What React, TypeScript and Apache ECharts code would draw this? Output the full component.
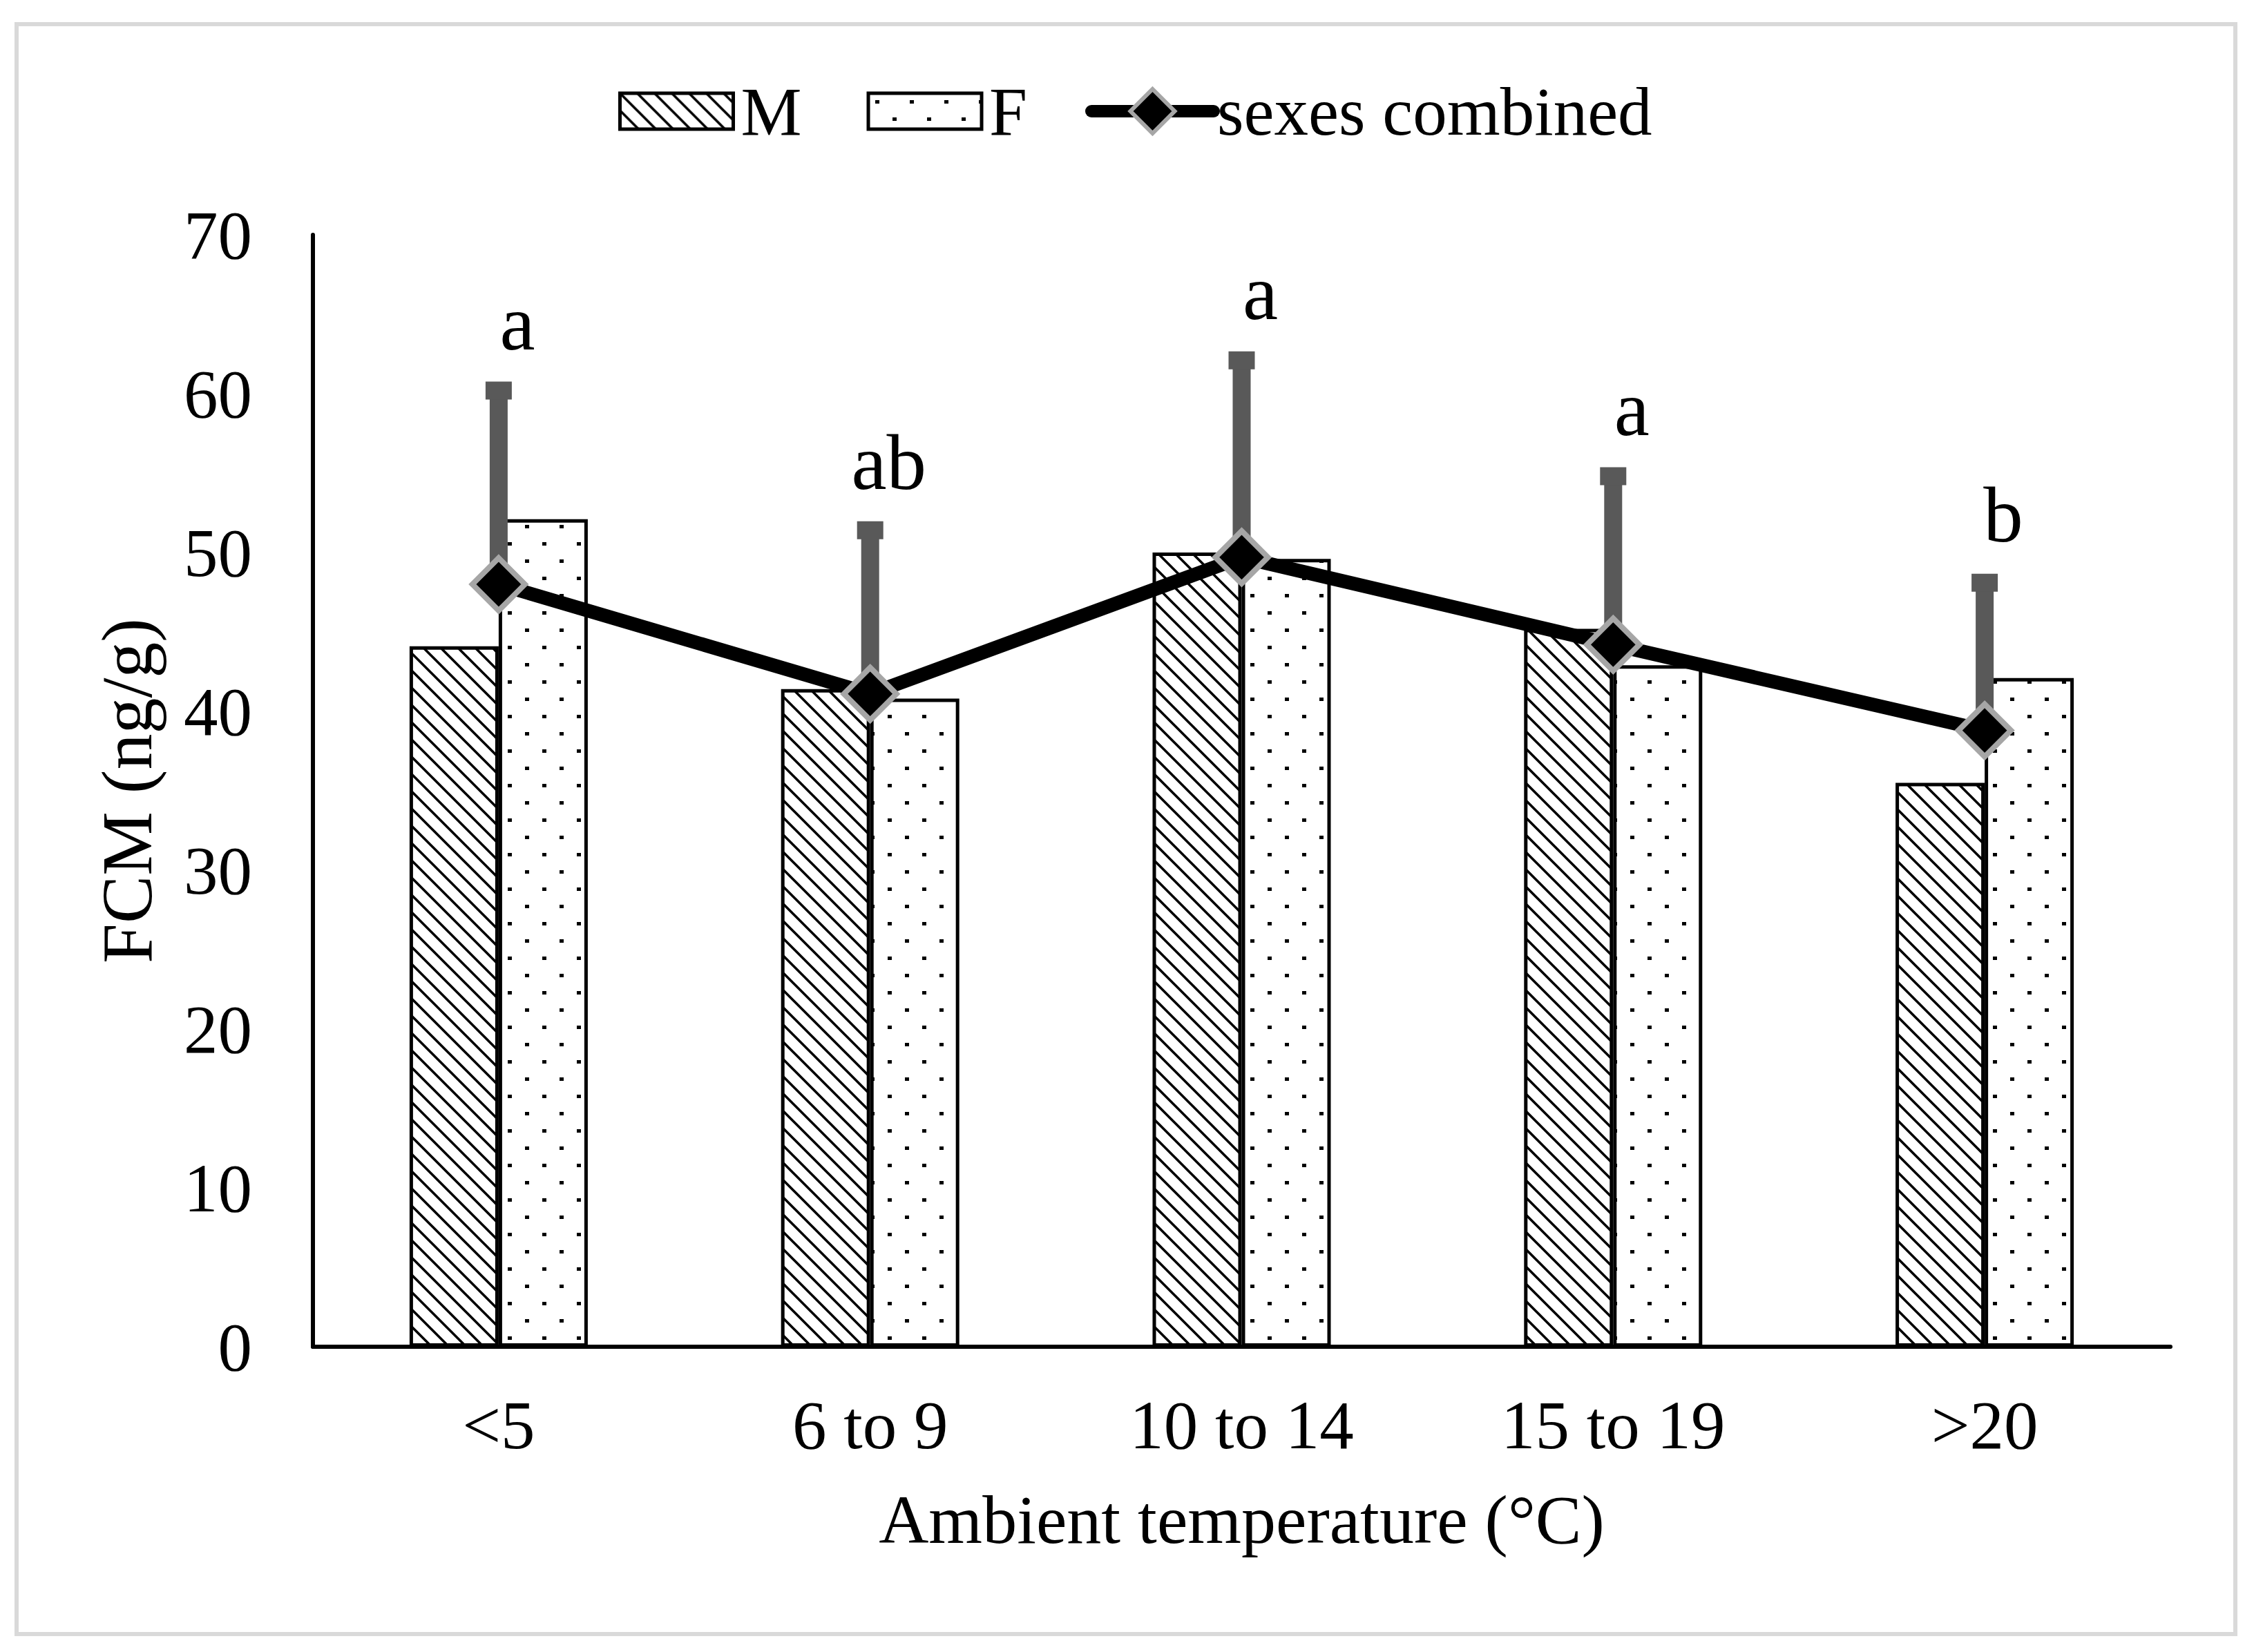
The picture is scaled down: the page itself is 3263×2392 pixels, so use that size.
import * as React from "react";
import * as echarts from "echarts";

const categories = ["<5", "6 to 9", "10 to 14", "15 to 19", ">20"];
const maleFCM = [44.1, 41.4, 50.0, 45.2, 35.5];
const femaleFCM = [52.1, 40.8, 49.6, 42.9, 42.1];
const combinedFCM = [48.0, 41.1, 49.7, 44.2, 38.8];
const combinedUpper = [60.2, 51.4, 62.1, 54.8, 48.1];
const groupLetters = ["a", "ab", "a", "a", "b"];
const yTicks = { min: 0, max: 70, interval: 10 };

const FONT = "'Liberation Serif', 'Times New Roman', serif";

// diagonal "\" hatch for the M bars
function hatchTile() {
  const c = document.createElement("canvas");
  c.width = 25; c.height = 25;
  const ctx = c.getContext("2d")!;
  ctx.fillStyle = "#fff";
  ctx.fillRect(0, 0, 25, 25);
  ctx.strokeStyle = "#000";
  ctx.lineWidth = 3.6;
  ctx.beginPath();
  ctx.moveTo(-5, -5); ctx.lineTo(30, 30);
  ctx.moveTo(-5, 20); ctx.lineTo(5, 30);
  ctx.moveTo(20, -5); ctx.lineTo(30, 5);
  ctx.stroke();
  return c;
}

// staggered dots for the F bars
function dotTile() {
  const c = document.createElement("canvas");
  c.width = 50; c.height = 50;
  const ctx = c.getContext("2d")!;
  ctx.fillStyle = "#fff";
  ctx.fillRect(0, 0, 50, 50);
  ctx.fillStyle = "#000";
  ctx.fillRect(10, 10, 6, 5);
  ctx.fillRect(35, 35, 6, 5);
  return c;
}

export default function App() {
  const ref = React.useRef<HTMLDivElement>(null);
  React.useEffect(() => {
    document.body.style.margin = "0";
    if (!ref.current) return;
    const chart = echarts.init(ref.current, undefined, { renderer: "svg" });
    const hatch = { image: hatchTile(), repeat: "repeat", imageWidth: 25, imageHeight: 25 };
    const dots = { image: dotTile(), repeat: "repeat", imageWidth: 50, imageHeight: 50 };
    const legendText = { fontSize: 99, fontFamily: FONT, color: "#000", lineHeight: 100 };

    chart.setOption({
      animation: false,
      backgroundColor: "#fff",
      textStyle: { fontFamily: FONT, color: "#000" },
      graphic: [
        {
          type: "rect",
          shape: { x: 24, y: 35, width: 3212, height: 2331 },
          style: { fill: "none", stroke: "#d9d9d9", lineWidth: 6 },
          silent: true,
        },
      ],
      legend: [
        {
          left: 895, top: 111, padding: 0,
          itemWidth: 164, itemHeight: 52, itemGap: 94,
          icon: "rect",
          textStyle: { ...legendText, padding: [0, 0, 0, 6] },
          data: [
            { name: "M", itemStyle: { borderColor: "#000", borderWidth: 5 } },
            { name: "F", itemStyle: { borderColor: "#000", borderWidth: 5 } },
          ],
        },
        {
          left: 1571, top: 111, padding: 0,
          itemWidth: 177, itemHeight: 80,
          textStyle: legendText,
          data: [
            {
              name: "sexes combined",
              itemStyle: { color: "#000", borderColor: "#a6a6a6", borderWidth: 6 },
              lineStyle: { color: "#000", width: 18, cap: "round" },
            },
          ],
        },
      ],
      grid: { left: 453, right: 121, top: 340, bottom: 442 },
      xAxis: {
        type: "category",
        data: categories,
        axisLine: { lineStyle: { color: "#000", width: 6 } },
        axisTick: { show: false },
        axisLabel: { fontSize: 99, fontFamily: FONT, color: "#000", margin: 64, interval: 0 },
        name: "Ambient temperature (°C)",
        nameLocation: "middle",
        nameGap: 200,
        nameTextStyle: { fontSize: 100, fontFamily: FONT, color: "#000" },
      },
      yAxis: {
        type: "value",
        min: yTicks.min, max: yTicks.max, interval: yTicks.interval,
        axisLine: { show: true, lineStyle: { color: "#000", width: 6 } },
        axisTick: { show: false },
        splitLine: { show: false },
        axisLabel: { fontSize: 99, fontFamily: FONT, color: "#000", margin: 88 },
        name: "FCM (ng/g)",
        nameLocation: "middle",
        nameGap: 218,
        nameTextStyle: { fontSize: 104, fontFamily: FONT, color: "#000" },
      },
      series: [
        {
          name: "M", type: "bar", data: maleFCM, barWidth: 129, barGap: "0%",
          itemStyle: { color: hatch, borderColor: "#000", borderWidth: 5 },
          z: 2,
        },
        {
          name: "F", type: "bar", data: femaleFCM, barWidth: 129, barGap: "0%",
          itemStyle: { color: dots, borderColor: "#000", borderWidth: 5 },
          z: 2,
        },
        {
          name: "error", type: "custom", z: 3,
          data: categories.map((_, i) => [i, combinedFCM[i], combinedUpper[i]]),
          encode: { x: 0, y: [1, 2] },
          renderItem: (params: any, api: any) => {
            const i = api.value(0);
            const lo = api.coord([i, api.value(1)]);
            const hi = api.coord([i, api.value(2)]);
            return {
              type: "group",
              children: [
                { type: "rect", shape: { x: hi[0] - 13, y: hi[1], width: 26, height: lo[1] - hi[1] }, style: { fill: "#595959" } },
                { type: "rect", shape: { x: hi[0] - 19, y: hi[1] - 13, width: 38, height: 26 }, style: { fill: "#595959" } },
                {
                  type: "text", x: hi[0] + 27, y: hi[1] - 98,
                  style: { text: groupLetters[params.dataIndex], fontSize: 115, fontFamily: FONT, fill: "#000", align: "center", verticalAlign: "middle" },
                },
              ],
            };
          },
        },
        {
          name: "sexes combined", type: "line", data: combinedFCM, z: 4,
          symbol: "diamond", symbolSize: 76,
          lineStyle: { color: "#000", width: 20 },
          itemStyle: { color: "#000", borderColor: "#a6a6a6", borderWidth: 8 },
        },
      ],
    });
    return () => chart.dispose();
  }, []);
  return <div ref={ref} style={{ width: 3263, height: 2392 }} />;
}
